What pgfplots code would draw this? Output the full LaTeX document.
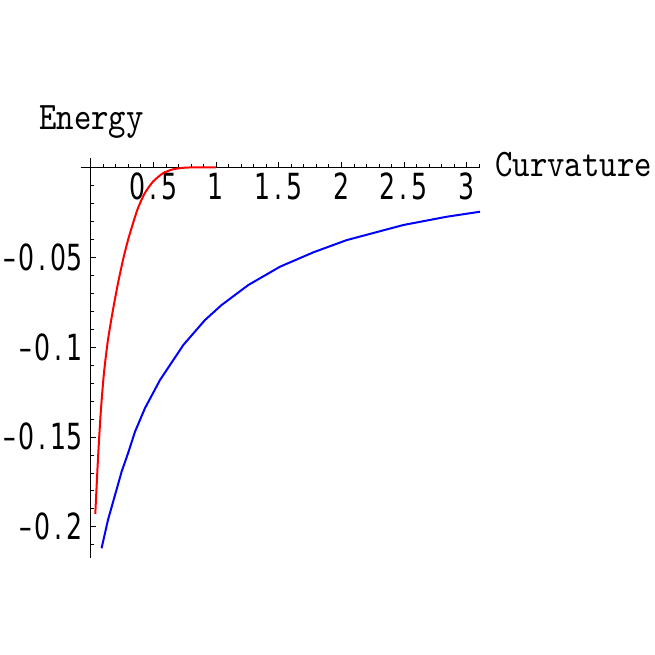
\documentclass[border=0pt]{standalone}
\usepackage{pgfplots}
\pgfplotsset{compat=1.18}
\usepackage{fontspec}
\newfontfamily\tickfont[FakeStretch=0.70]{DejaVu Sans}
\newfontfamily\labfont[FakeStretch=0.85]{lmmono10-regular.otf}
\newcommand\Dt{\hbox to 16pt{\hss.\hss}}
\newcommand\Mn{\hbox to 16pt{\hss–\hss}}
\begin{document}
\begin{tikzpicture}[x=1pt,y=1pt]
\useasboundingbox (0,0) rectangle (655,655);
\begin{axis}[at={(81pt,97pt)}, anchor=south west, scale only axis,
  width=399pt, height=400pt,
  xmin=-0.077, xmax=3.107, ymin=-0.2174, ymax=0.0052,
  axis lines=middle, axis line style={-, line width=0.8pt, black},
  tick align=inside, major tick length=5pt, minor tick length=3pt,
  tick style={black, line width=0.6pt},
  xtick={0.5,1,1.5,2,2.5,3}, xticklabels={0\Dt5,1,1\Dt5,2,2\Dt5,3},
  ytick={-0.2,-0.15,-0.1,-0.05}, yticklabels={\Mn0\Dt2,\Mn0\Dt15,\Mn0\Dt1,\Mn0\Dt05},
  minor xtick={0.1,0.2,...,3.1}, minor ytick={-0.21,-0.2,...,0},
  tick label style={font=\tickfont\fontsize{36}{36}\selectfont},
  xticklabel style={anchor=north, yshift=-2pt},
  yticklabel style={anchor=east, xshift=-5pt},
  clip=false]
\addplot[red, line width=2pt, smooth, tension=0.4] coordinates {
(0.037,-0.1929) (0.058,-0.1629) (0.080,-0.1369) (0.106,-0.1146) (0.138,-0.0961)
(0.178,-0.0794) (0.218,-0.0646) (0.258,-0.0516) (0.298,-0.0405) (0.338,-0.0312)
(0.377,-0.0228) (0.431,-0.0145) (0.497,-0.0080) (0.577,-0.0033) (0.657,-0.0011)
(0.75,-0.0002) (0.85,0) (1.0,0)};
\addplot[blue, line width=2pt] coordinates {
(0.087,-0.212) (0.138,-0.1963) (0.168,-0.1889) (0.247,-0.1694) (0.298,-0.1592)
(0.354,-0.1471) (0.433,-0.1341) (0.553,-0.1184) (0.739,-0.0989) (0.912,-0.0850)
(1.045,-0.0766) (1.258,-0.0655) (1.511,-0.0553) (1.777,-0.0473) (2.043,-0.0405)
(2.495,-0.0321) (2.841,-0.0275) (3.107,-0.0247)};
\end{axis}
\node[anchor=base west, inner sep=0pt, font=\labfont\fontsize{39}{39}\selectfont] at (39,525.7) {Energy};
\node[anchor=base west, inner sep=0pt, font=\labfont\fontsize{39}{39}\selectfont] at (495,478.3) {Curvature};
\end{tikzpicture}
\end{document}
